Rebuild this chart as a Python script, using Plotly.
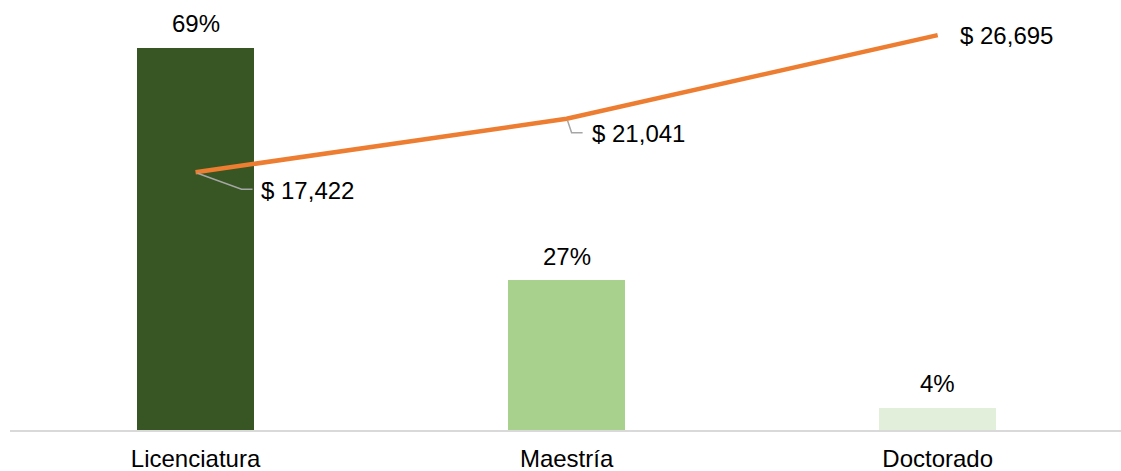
import plotly.graph_objects as go

# ---- data ----
categories = ["Licenciatura", "Maestría", "Doctorado"]
share = [0.69, 0.27, 0.04]
share_labels = ["69%", "27%", "4%"]
salary = [17422, 21041, 26695]
salary_labels = ["$ 17,422", "$ 21,041", "$ 26,695"]

# ---- style ----
bar_colors = ["#375623", "#A9D18E", "#E2EFDA"]
line_color = "#ED7D31"
font_family = "Liberation Sans, Arial, sans-serif"
fsize = 24

fig = go.Figure()
fig.add_trace(go.Bar(
    x=categories, y=share, marker=dict(color=bar_colors, line=dict(width=0)),
    width=0.315, yaxis="y", showlegend=False, hoverinfo="skip",
))
fig.add_trace(go.Scatter(
    x=categories, y=salary, mode="lines", yaxis="y2",
    line=dict(color=line_color, width=4.5), showlegend=False, hoverinfo="skip",
))

annotations = []
for c, v, t in zip(categories, share, share_labels):
    annotations.append(dict(
        x=c, y=v, xref="x", yref="y", text=t, showarrow=False,
        xanchor="center", yanchor="middle", yshift=24,
        font=dict(family=font_family, size=fsize, color="#000000"),
    ))

# label offsets (pixels) for line labels: (xshift, yshift)
label_offsets = [(63, -18), (23, -15), (20, 0)]
# leader line paths in pixel offsets from the point (None = no leader)
leaders = ["M2,-1 L46,-17 L57,-17", "M1,-2 L5,-14 L16,-14", None]

shapes = []
for c, v, t, (dx, dy), lp in zip(categories, salary, salary_labels, label_offsets, leaders):
    annotations.append(dict(
        x=c, y=v, xref="x", yref="y2", text=t, showarrow=False,
        xanchor="left", yanchor="middle", xshift=dx, yshift=dy,
        font=dict(family=font_family, size=fsize, color="#000000"),
    ))
    if lp:
        shapes.append(dict(
            type="path", xref="x", yref="y2", xsizemode="pixel", ysizemode="pixel",
            xanchor=c, yanchor=v, path=lp,
            line=dict(color="#A6A6A6", width=1.5), layer="above",
        ))

fig.update_layout(
    template="none",
    width=1121, height=471,
    margin=dict(l=10, r=0, t=0, b=41, autoexpand=False),
    paper_bgcolor="white", plot_bgcolor="white",
    font=dict(family=font_family, size=fsize, color="#000000"),
    bargap=0,
    xaxis=dict(
        type="category", range=[-0.5, 2.494], showgrid=False, zeroline=False,
        showline=True, linecolor="#D9D9D9", linewidth=2, ticks="",
        automargin=False, ticklabelstandoff=6,
        tickfont=dict(family=font_family, size=fsize, color="#000000"),
    ),
    yaxis=dict(range=[0, 0.776], visible=False, showgrid=False, zeroline=False,
               automargin=False),
    yaxis2=dict(range=[0, 29070], visible=False, overlaying="y", side="right",
                showgrid=False, zeroline=False, automargin=False),
    annotations=annotations,
    shapes=shapes,
)

fig.write_html(
    "out.html",
    config={"responsive": False, "displayModeBar": False},
    post_script="document.body.style.margin='0';document.body.style.overflow='hidden';",
)
